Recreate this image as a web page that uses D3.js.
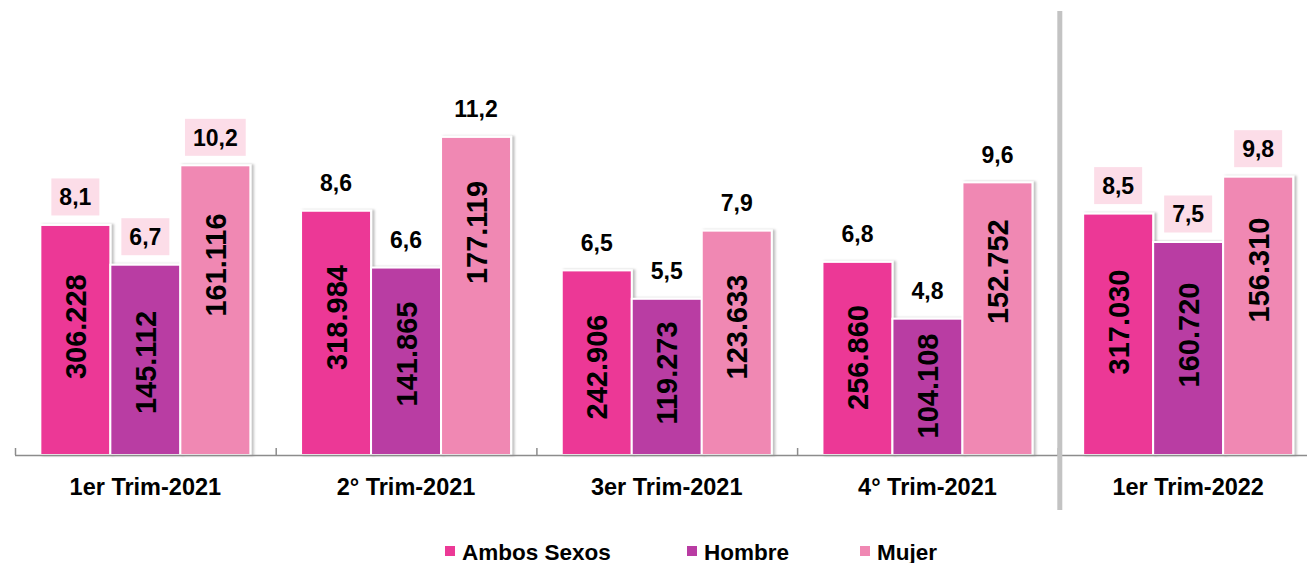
<!DOCTYPE html>
<html>
<head>
<meta charset="utf-8">
<script src="https://cdn.jsdelivr.net/npm/d3@7"></script>
<style>
  body { margin: 0; background: #fff; }
  text { font-family: "Liberation Sans", Arial, sans-serif; font-weight: bold; fill: #000; }
</style>
</head>
<body>
<div class="chart"></div>
<script>
// data
var categories = ["1er Trim-2021", "2° Trim-2021", "3er Trim-2021", "4° Trim-2021", "1er Trim-2022"];
var seriesNames = ["Ambos Sexos", "Hombre", "Mujer"];
// rates (bar height)
var ambosRate = [8.1, 8.6, 6.5, 6.8, 8.5];
var hombreRate = [6.7, 6.6, 5.5, 4.8, 7.5];
var mujerRate = [10.2, 11.2, 7.9, 9.6, 9.8];
// persons (text inside the bars)
var ambosCount = ["306.228", "318.984", "242.906", "256.860", "317.030"];
var hombreCount = ["145.112", "141.865", "119.273", "104.108", "160.720"];
var mujerCount = ["161.116", "177.119", "123.633", "152.752", "156.310"];

// layout
var svgWidth = 1307;
var svgHeight = 563;
var baseline = 455;
var colors = ["#ec3996", "#b93ca3", "#f088b3"];
var boxedGroups = [0, 4]; // groups whose rate label sits on a pink box
// vertical centre (px) of the rotated count labels, as placed in the original
var countLabelY = [
  [326.7, 362.5, 265],
  [317.5, 354, 232.5],
  [367, 373, 327],
  [357.5, 386, 271.7],
  [322, 335, 270]
];

var rates = [ambosRate, hombreRate, mujerRate];
var counts = [ambosCount, hombreCount, mujerCount];

var svg = d3.select(".chart")
  .append("svg")
  .attr("width", svgWidth)
  .attr("height", svgHeight);

// soft shadow on the right side of the bars
var defs = svg.append("defs");
var shadow = defs.append("filter").attr("id", "shadow")
  .attr("x", "-10%").attr("y", "-5%").attr("width", "130%").attr("height", "110%");
shadow.append("feDropShadow")
  .attr("dx", 2.5).attr("dy", 0).attr("stdDeviation", 1.2)
  .attr("flood-color", "#000").attr("flood-opacity", 0.25);

var xScale = d3.scaleBand()
  .domain(categories)
  .range([15, 15 + 260.7 * categories.length]);

var xInner = d3.scaleBand()
  .domain(seriesNames)
  .range([0, 210]);

var yScale = d3.scaleLinear()
  .domain([0, 16])
  .range([baseline, baseline - 28.4 * 16]);

// flatten
var bars = [];
categories.forEach(function (c, i) {
  seriesNames.forEach(function (s, j) {
    bars.push({ cat: c, ci: i, series: s, si: j, rate: rates[j][i], count: counts[j][i] });
  });
});

function barX(d) {
  return xScale(d.cat) + (xScale.bandwidth() - 210) / 2 + xInner(d.series);
}

// bars
svg.append("g").selectAll("rect")
  .data(bars)
  .enter()
  .append("rect")
  .attr("x", d => barX(d))
  .attr("y", d => yScale(d.rate))
  .attr("width", xInner.bandwidth())
  .attr("height", d => baseline - yScale(d.rate))
  .attr("fill", d => colors[d.si])
  .attr("stroke", "#fff")
  .attr("stroke-width", 2)
  .attr("filter", "url(#shadow)");

// x axis line and inner ticks
var axis = svg.append("g");
axis.append("line")
  .attr("x1", 15).attr("x2", svgWidth)
  .attr("y1", baseline + 0.5).attr("y2", baseline + 0.5)
  .attr("stroke", "#8c8c8c").attr("stroke-width", 1.5);
axis.selectAll("line.tick")
  .data(categories)
  .enter()
  .append("line")
  .attr("class", "tick")
  .attr("x1", d => xScale(d) + 0.5)
  .attr("x2", d => xScale(d) + 0.5)
  .attr("y1", baseline - 7)
  .attr("y2", baseline)
  .attr("stroke", "#8c8c8c").attr("stroke-width", 1.5);

axis.selectAll("text")
  .data(categories)
  .enter()
  .append("text")
  .attr("x", d => xScale(d) + xScale.bandwidth() / 2)
  .attr("y", 495)
  .attr("text-anchor", "middle")
  .attr("font-size", 23.5)
  .text(d => d);

// separator before the last quarter
svg.append("rect")
  .attr("x", xScale(categories[4]) - 0.5)
  .attr("y", 11)
  .attr("width", 5)
  .attr("height", 499)
  .attr("fill", "#c3c3c3");

// rate labels above the bars
var rateLabels = svg.append("g").selectAll("g")
  .data(bars)
  .enter()
  .append("g")
  .attr("transform", d => `translate(${barX(d) + xInner.bandwidth() / 2}, ${yScale(d.rate) - 28})`);

rateLabels.append("text")
  .attr("text-anchor", "middle")
  .attr("dy", "0.36em")
  .attr("font-size", 23)
  .text(d => d3.format(".1f")(d.rate).replace(".", ","))
  .each(function (d) {
    if (boxedGroups.indexOf(d.ci) < 0) return;
    var w = this.getComputedTextLength() + 16;
    d3.select(this.parentNode).insert("rect", "text")
      .attr("x", -w / 2)
      .attr("y", -18.5)
      .attr("width", w)
      .attr("height", 37)
      .attr("fill", "#fcdde8");
  });

// counts written inside the bars
svg.append("g").selectAll("text")
  .data(bars)
  .enter()
  .append("text")
  .attr("transform", d => `translate(${barX(d) + xInner.bandwidth() / 2}, ${countLabelY[d.ci][d.si]}) rotate(-90)`)
  .attr("text-anchor", "middle")
  .attr("dy", "0.36em")
  .attr("font-size", 29)
  .text(d => d.count);

// legend
var legendX = [445, 687, 860];
var legend = svg.append("g").selectAll("g")
  .data(seriesNames)
  .enter()
  .append("g")
  .attr("transform", (d, i) => `translate(${legendX[i]}, 546)`);

legend.append("rect")
  .attr("width", 10)
  .attr("height", 10)
  .attr("fill", (d, i) => colors[i]);

legend.append("text")
  .attr("x", 17)
  .attr("y", 13.5)
  .attr("font-size", 22.5)
  .text(d => d);
</script>
</body>
</html>
